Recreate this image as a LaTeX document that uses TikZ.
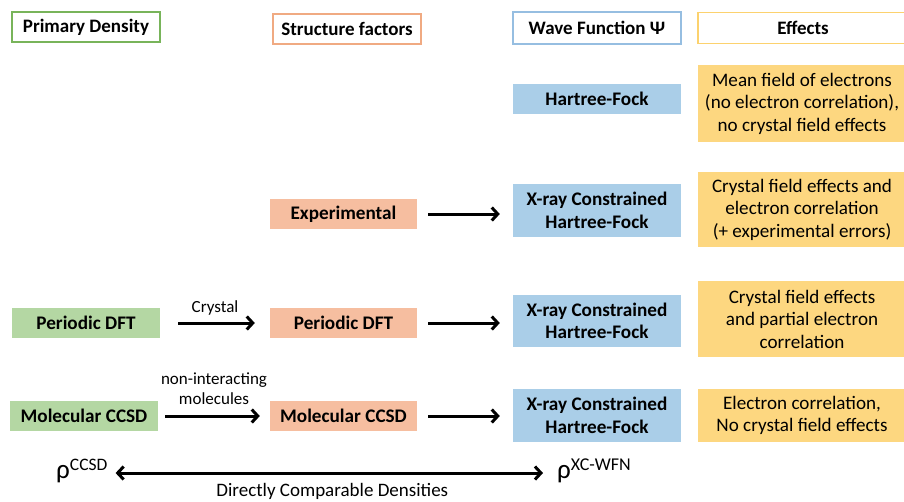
\documentclass[tikz,border=0pt]{standalone}
\usepackage{fontspec}
\setmainfont{Carlito}
\usetikzlibrary{arrows.meta}
\definecolor{grnfill}{RGB}{180,215,163}
\definecolor{orgfill}{RGB}{246,190,160}
\definecolor{blufill}{RGB}{170,206,232}
\definecolor{yelfill}{RGB}{253,215,128}
\definecolor{grnline}{RGB}{120,180,90}
\definecolor{orgline}{RGB}{240,170,130}
\definecolor{bluline}{RGB}{150,190,225}
\definecolor{yelline}{RGB}{252,210,110}
\begin{document}
\begin{tikzpicture}[x=1pt,y=-1pt,
    every node/.style={inner sep=0pt, align=center,
      font=\fontsize{19.1}{22.5}\selectfont
    },
    hdr/.style={draw, line width=1.8pt, fill=white,
      font=\fontsize{19}{22.5}\selectfont\bfseries},
    prim/.style={fill=grnfill, minimum width=148, minimum height=30,
      font=\fontsize{19.2}{22.5}\selectfont\bfseries},
    sfac/.style={fill=orgfill, minimum width=147, minimum height=30,
      font=\fontsize{19.2}{22.5}\selectfont\bfseries},
    wfn/.style={fill=blufill, minimum width=168,
      font=\fontsize{19.2}{22.5}\selectfont\bfseries},
    eff/.style={fill=yelfill, minimum width=208},
    lbl/.style={font=\fontsize{17}{20}\selectfont},
    arr/.style={line width=3pt, -{Straight Barb[length=6pt,width=13pt]}},
    dbl/.style={line width=3pt,
      {Straight Barb[length=6pt,width=13pt]}-{Straight Barb[length=6pt,width=13pt]}},
  ]
  \useasboundingbox (0,0) rectangle (904,501);
  \node[hdr, draw=grnline, minimum width=148, minimum height=30] (hprim) at (86,27) {Primary Density};
  \node[hdr, draw=orgline, minimum width=148, minimum height=30] (hsf) at (347,29) {Structure factors};
  \node[hdr, draw=bluline, minimum width=168, minimum height=32] (hwf) at (597,28) {Wave Function Ψ};
  \node[hdr, draw=yelline, minimum width=210, minimum height=31] (heff) at (803,28) {Effects};

  \node[wfn, minimum height=30] (hf) at (597,99) {Hartree-Fock};
  \node[eff, minimum height=77] (effhf) at (802,103.5)
    {Mean field of electrons\\(no electron correlation),\\no crystal field effects};

  \node[sfac] (exp) at (343.5,214) {Experimental};
  \node[wfn, minimum height=53] (xcexp) at (597,210.5) {X-ray Constrained\\Hartree-Fock};
  \node[eff, minimum height=75] (effexp) at (802,209.5)
    {Crystal field effects and\\electron correlation\\(+ experimental errors)};

  \node[prim] (pdft) at (86,323) {Periodic DFT};
  \node[sfac] (sfdft) at (343.5,323) {Periodic DFT};
  \node[wfn, minimum height=52] (xcdft) at (597,321) {X-ray Constrained\\Hartree-Fock};
  \node[eff, minimum height=76] (effdft) at (802,319)
    {Crystal field effects\\and partial electron\\correlation};

  \node[prim] (mccsd) at (84,416) {Molecular CCSD};
  \node[sfac] (sfccsd) at (343.5,416) {Molecular CCSD};
  \node[wfn, minimum height=53] (xcccsd) at (597,415.5) {X-ray Constrained\\Hartree-Fock};
  \node[eff, minimum height=53] (effccsd) at (802,415.5)
    {Electron correlation,\\No crystal field effects};

  \draw[arr, shorten <=11pt, shorten >=13pt] (exp.east) -- (exp.east -| xcexp.west);
  \draw[arr, shorten <=11pt, shorten >=13pt] (sfdft.east) -- (sfdft.east -| xcdft.west);
  \draw[arr, shorten <=11pt, shorten >=13pt] (sfccsd.east) -- (sfccsd.east -| xcccsd.west);

  \draw[arr, shorten <=18pt, shorten >=15pt] (pdft.east) -- (sfdft.west)
    node[lbl, midway, above=6pt] (crys) {Crystal};
  \draw[arr, shorten <=7pt, shorten >=10pt] (mccsd.east) -- (sfccsd.west)
    node[lbl, midway, above=10pt] (nonint) {non-interacting\\molecules};

  \node[anchor=base west] (rhoccsd) at (56,478)
    {\fontsize{27}{27}\selectfont ρ\raisebox{8pt}{\fontsize{17.5}{17.5}\selectfont CCSD}};
  \node[anchor=base west] (rhoxc) at (557,478)
    {\fontsize{27}{27}\selectfont ρ\raisebox{8pt}{\fontsize{18}{18}\selectfont XC-WFN}};
  \coordinate (lvl) at (0,473);
  \draw[dbl, shorten <=8pt, shorten >=14pt] (rhoccsd.east |- lvl) -- (rhoxc.west |- lvl)
    node[midway, below=9pt, font=\fontsize{19}{20}\selectfont] (dens) {Directly Comparable Densities};
\end{tikzpicture}
\end{document}
